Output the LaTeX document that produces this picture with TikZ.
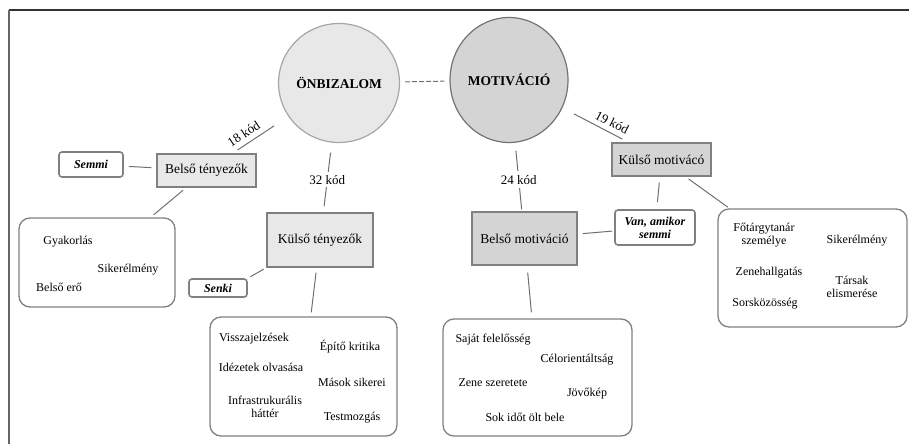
\documentclass[tikz,border=0pt]{standalone}
\usepackage{fontspec}
\setmainfont{Liberation Serif}
\usetikzlibrary{positioning,calc,shapes.geometric}
\usepackage{xcolor}
\definecolor{lightfill}{HTML}{E8E8E8}
\definecolor{darkfill}{HTML}{D4D4D4}
\definecolor{edgegray}{HTML}{808080}
\definecolor{linegray}{HTML}{707070}
\tikzset{
circ/.style={
  ellipse,
  line width=1.2pt,
  inner sep=0pt,
  font=\fontsize{13.5}{15}\selectfont\bfseries
  },
factor/.style={
  rectangle,
  draw=edgegray,
  line width=1.3pt,
  inner sep=0pt,
  font=\fontsize{13.5}{15}\selectfont
  },
note/.style={
  rectangle,
  rounded corners=3pt,
  draw=edgegray,
  line width=1.6pt,
  inner sep=0pt,
  align=center,
  font=\fontsize{12}{13}\selectfont\bfseries\itshape
  },
group/.style={rectangle, rounded corners=11pt, draw=edgegray, line width=1.3pt},
item/.style={inner sep=0pt, align=center, font=\fontsize{12}{13}\selectfont},
link/.style={draw=linegray, line width=1pt},
code/.style={inner sep=1pt, font=\fontsize{13}{15}\selectfont},
%frame/.style={draw=black!80, line width=1.3pt}
}

\begin{document}
\begin{tikzpicture}[x=1pt, y=-1pt]
    \useasboundingbox (0,0) rectangle (909,444);
    \draw [black!80, line width=1.3pt] (909,10) -- (9,10);
    \draw [black!60, line width=1.5pt] (9,10) -- (9,444);

    % the two main concepts
    \node [circ, draw=black!35, fill=lightfill, minimum width=117pt, minimum height=119pt] (onb) at (339,83) {ÖNBIZALOM};
    \node [circ, draw=black!55, fill=darkfill, minimum width=118pt, minimum height=125pt] (mot) at (509,80) {MOTIVÁCIÓ};
    \draw [link, dash pattern=on 5pt off 2pt, shorten <=5pt, shorten >=5pt] (onb) -- (mot);

    % factor boxes
    \node [factor, fill=lightfill, minimum width=99pt, minimum height=33pt] (bt) at (206.5,170.5) {Belső tényezők};
    \node [factor, fill=lightfill, minimum width=106pt, minimum height=54pt] (kt) at (320,240) {Külső tényezők};
    \node [factor, fill=darkfill, minimum width=99pt, minimum height=33pt] (km) at (661.5,159.5) {Külső motivácó};
    \node [factor, fill=darkfill, minimum width=105pt, minimum height=53pt] (bm) at (524.5,238.5) {Belső motiváció};

    % notes
    \node [note, minimum width=64pt, minimum height=25pt] (semmi) at (91,164.5) {Semmi};
    \node [note, minimum width=58pt, minimum height=18pt] (senki) at (218,288) {Senki};
    \node [note, minimum width=80pt, minimum height=35pt] (van) at (655,227.5) {Van, amikor\\semmi};

    % groups of codes
    \node [group, minimum width=156pt, minimum height=89pt] (g1) at (97,262.5) {};
    \node [group, minimum width=187pt, minimum height=119pt] (g2) at (303.5,376.5) {};
    \node [group, minimum width=189pt, minimum height=117pt] (g3) at (537.5,377.5) {};
    \node [group, minimum width=189pt, minimum height=118pt] (g4) at (812.5,268) {};

    \foreach [count=\i] \x/\y/\t in {68/242/Gyakorlás, 128/270/Sikerélmény, 59/287/Belső erő}
        \node [item] (g1-\i) at (\x,\y) {\t};
    \foreach [count=\i] \x/\y/\t in {254/339/Visszajelzések, 350/347/Építő kritika,
        261/367/Idézetek olvasása, 352/382/Mások sikerei,
        265/406.5/{Infrastrukurális\\háttér}, 352/418/Testmozgás}
        \node [item] (g2-\i) at (\x,\y) {\t};
    \foreach [count=\i] \x/\y/\t in {493/340/Saját felelősség, 577/360/Célorientáltság,
        493/383/Zene szeretete, 587/394/Jövőkép, 525/417/Sok időt ölt bele}
        \node [item] (g3-\i) at (\x,\y) {\t};
    \foreach [count=\i] \x/\y/\t in {764/235.5/{Főtárgytanár\\személye}, 857/241/Sikerélmény,
        769/273/Zenehallgatás, 852/287/{Társak\\elismerése}, 765/304/Sorsközösség}
        \node [item] (g4-\i) at (\x,\y) {\t};

    % connectors with code counts
    \draw [link, shorten <=6pt, shorten >=17pt] (bt) -- node [code, sloped, above=4pt, pos=.3] (c18) {18 kód} (onb);
    \draw [link, shorten <=10pt, shorten >=6pt] (onb) -- node [code, fill=white, inner sep=3pt, pos=.53] (c32) {32 kód} (kt);
    \draw [link, shorten <=8pt, shorten >=2pt] (mot) -- node [code, fill=white, inner sep=4pt, pos=.54] (c24) {24 kód} (bm);
    \draw [link, shorten <=13pt, shorten >=7pt] (mot) -- node [code, sloped, above=4pt, pos=.68] (c19) {19 kód} (km);

    % plain connectors
    \draw [link, shorten <=5pt, shorten >=5pt] (semmi) -- (bt);
    \draw [link, shorten <=4pt, shorten >=4pt] (bt) -- (g1);
    \draw [link, shorten <=3pt, shorten >=3pt] (kt.south west) -- (senki.north east);
    \draw [link, shorten <=5pt, shorten >=4pt] (kt) -- (g2);
    \draw [link, shorten <=5pt, shorten >=2pt] (bm) -- (van);
    \draw [link, shorten <=6pt, shorten >=7pt] (km) -- (van);
    \draw [link, shorten <=4pt, shorten >=2pt] (km) -- (g4);
    \draw [link, shorten <=7pt, shorten >=6pt] (bm) -- (g3);

\end{tikzpicture}
\end{document}
